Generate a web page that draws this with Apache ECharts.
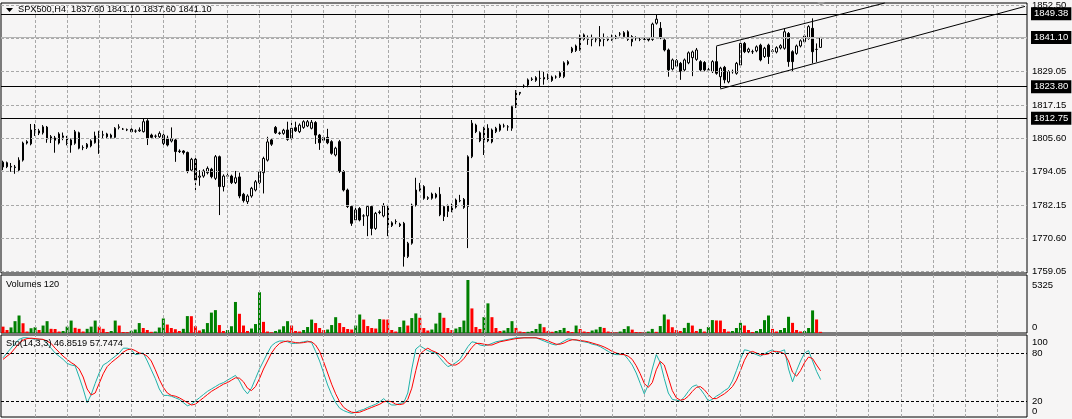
<!DOCTYPE html>
<html><head><meta charset="utf-8">
<script src="https://cdn.jsdelivr.net/npm/echarts@6/dist/echarts.min.js"></script>
<style>html,body{margin:0;padding:0;background:#f6f5f5;}#c{width:1072px;height:419px;}</style>
</head><body><div id="c"></div>
<script>
// ---- DATA ----
const opens=[1795.6,1797.1,1795.8,1795.6,1794.5,1798.0,1804.0,1803.7,1808.8,1807.5,
1807.6,1809.6,1806.2,1805.8,1804.0,1806.5,1806.0,1805.1,1803.9,1807.6,
1802.4,1802.5,1803.0,1804.1,1806.7,1806.8,1807.2,1806.8,1806.0,1809.5,
1808.9,1808.6,1808.8,1808.2,1808.3,1808.0,1811.8,1806.8,1806.4,1806.2,
1806.8,1805.7,1804.7,1805.1,1801.0,1801.2,1800.7,1794.5,1798.3,1792.0,
1792.4,1793.6,1794.8,1791.6,1799.2,1788.7,1792.4,1792.4,1790.1,1792.1,
1786.0,1783.4,1785.4,1787.5,1790.1,1793.6,1798.0,1805.1,1809.5,1807.5,
1807.4,1808.6,1805.7,1809.4,1808.0,1809.5,1810.0,1809.2,1811.2,1806.8,
1805.0,1806.0,1804.5,1799.8,1804.5,1794.0,1787.5,1781.7,1777.0,1781.0,
1778.4,1778.4,1781.7,1774.0,1779.6,1778.4,1781.9,1775.0,1776.4,1775.5,
1775.8,1764.1,1768.8,1782.2,1787.5,1788.7,1784.8,1784.6,1786.0,1786.0,
1778.2,1781.9,1780.2,1781.5,1783.7,1784.2,1781.7,1799.2,1810.3,1807.6,
1804.8,1809.2,1804.4,1808.0,1808.5,1810.0,1809.7,1809.2,1816.8,1821.8,
1824.0,1824.4,1826.3,1826.0,1826.7,1827.0,1826.7,1827.2,1827.2,1827.4,
1827.3,1831.8,1836.1,1836.5,1836.9,1842.0,1840.4,1840.4,1840.3,1840.4,
1840.4,1840.9,1840.4,1841.3,1842.3,1841.4,1843.1,1841.4,1840.8,1840.4,
1840.4,1840.7,1840.4,1846.1,1844.3,1840.2,1836.7,1830.0,1831.0,1832.0,
1829.7,1832.2,1834.0,1833.4,1832.6,1832.3,1829.7,1829.1,1832.6,1827.3,
1830.6,1825.5,1829.1,1828.5,1831.4,1839.0,1836.1,1836.1,1836.4,1838.4,
1834.4,1838.4,1836.2,1836.0,1837.4,1837.3,1842.5,1836.1,1835.5,1838.1,
1839.6,1840.8,1844.3,1836.9,1837.6];
const closes=[1797.3,1795.7,1795.6,1795.4,1798.0,1804.0,1804.5,1808.6,1807.6,1808.3,
1809.7,1805.4,1805.4,1805.0,1807.2,1806.0,1803.9,1803.3,1808.0,1802.2,
1802.4,1803.6,1804.8,1806.5,1806.8,1806.9,1806.2,1806.0,1809.2,1809.7,
1808.9,1808.7,1808.0,1808.2,1808.6,1811.5,1805.7,1806.0,1806.4,1807.4,
1803.9,1803.3,1805.5,1801.0,1801.2,1800.7,1794.0,1798.3,1791.0,1792.4,
1794.2,1795.1,1792.2,1799.2,1788.7,1792.4,1792.5,1790.1,1791.8,1785.4,
1783.8,1785.4,1788.1,1790.4,1794.0,1798.6,1804.4,1803.6,1807.6,1807.4,
1808.5,1805.3,1809.2,1808.3,1810.3,1811.5,1811.5,1811.3,1806.8,1804.1,
1805.9,1804.1,1800.4,1802.2,1794.0,1787.5,1781.7,1775.8,1780.5,1777.0,
1778.4,1781.7,1774.0,1779.3,1779.8,1781.9,1774.6,1776.0,1776.4,1775.0,
1764.1,1768.8,1782.2,1787.5,1788.0,1784.6,1784.6,1786.1,1785.0,1778.8,
1781.7,1780.0,1782.2,1784.0,1783.8,1781.4,1799.2,1811.0,1808.0,1804.8,
1809.2,1804.8,1808.6,1809.2,1810.3,1810.0,1809.7,1816.8,1822.0,1821.5,
1824.0,1826.2,1826.5,1827.0,1826.7,1826.5,1827.9,1826.0,1827.2,1828.7,
1832.2,1832.6,1837.3,1838.1,1841.6,1840.5,1840.4,1840.5,1840.3,1839.7,
1840.4,1840.3,1841.6,1841.3,1842.3,1842.8,1840.4,1839.6,1840.8,1840.4,
1840.4,1840.2,1845.8,1847.5,1841.0,1836.7,1829.7,1833.2,1833.0,1829.1,
1833.2,1835.7,1836.0,1836.7,1829.7,1829.7,1829.7,1832.6,1828.5,1830.3,
1826.2,1829.1,1829.1,1832.0,1839.0,1836.1,1837.0,1836.1,1837.8,1833.2,
1837.3,1834.4,1836.4,1837.5,1838.2,1843.1,1832.6,1832.6,1838.1,1839.9,
1841.6,1844.9,1836.1,1836.9,1841.1];
const lows=[1794.5,1795.2,1793.9,1793.2,1793.8,1797.5,1803.5,1803.2,1806.5,1806.8,
1807.0,1804.1,1804.0,1800.6,1803.5,1805.0,1803.2,1800.6,1803.4,1801.8,
1801.5,1801.9,1802.5,1803.8,1800.2,1805.5,1805.8,1805.6,1805.7,1808.8,
1808.6,1808.2,1807.7,1807.6,1807.9,1807.7,1803.3,1805.4,1805.7,1805.8,
1802.3,1802.8,1804.2,1797.4,1800.5,1800.0,1793.4,1793.9,1787.0,1789.0,
1791.8,1793.0,1791.6,1791.0,1778.7,1787.0,1791.6,1789.6,1789.6,1784.6,
1783.1,1782.6,1784.8,1787.0,1789.5,1786.3,1797.5,1803.0,1807.2,1806.9,
1806.9,1804.8,1805.2,1807.9,1807.5,1809.0,1809.6,1808.8,1803.7,1801.6,
1804.5,1803.6,1799.9,1799.3,1793.5,1787.0,1781.2,1774.9,1776.5,1776.5,
1774.9,1771.3,1771.6,1773.5,1779.0,1777.9,1771.3,1774.5,1775.5,1774.5,
1760.6,1763.6,1768.3,1781.7,1787.0,1784.1,1784.0,1784.1,1784.5,1778.3,
1776.6,1778.0,1779.7,1781.0,1783.2,1780.9,1767.1,1798.7,1807.5,1804.3,
1799.8,1804.3,1803.9,1807.5,1808.0,1809.4,1808.3,1808.3,1816.3,1820.8,
1823.4,1823.6,1825.8,1825.5,1824.0,1824.5,1826.2,1825.5,1826.6,1826.9,
1826.8,1831.3,1835.6,1836.0,1836.4,1840.0,1838.5,1838.0,1839.4,1838.0,
1838.0,1839.8,1839.9,1840.5,1841.5,1840.9,1839.9,1838.0,1840.0,1839.8,
1839.8,1839.7,1839.9,1845.6,1840.5,1836.2,1827.3,1829.5,1830.5,1826.2,
1829.2,1831.7,1827.5,1832.9,1829.2,1829.2,1829.0,1828.6,1828.0,1823.2,
1825.0,1825.0,1828.4,1828.0,1830.9,1835.6,1835.6,1835.3,1835.9,1832.7,
1833.9,1831.8,1835.5,1835.5,1836.9,1836.8,1830.8,1829.3,1835.0,1837.6,
1839.1,1840.3,1832.0,1832.5,1837.6];
const highs=[1797.8,1797.5,1797.0,1796.3,1799.0,1804.5,1805.0,1810.7,1810.7,1809.0,
1810.3,1810.0,1806.8,1806.5,1807.8,1807.7,1806.5,1805.6,1808.6,1808.0,
1803.2,1804.0,1805.3,1808.0,1808.3,1808.3,1807.6,1807.3,1809.6,1810.6,
1809.3,1809.1,1809.2,1808.8,1809.5,1812.7,1812.4,1807.3,1807.0,1808.1,
1807.3,1806.6,1809.5,1805.5,1801.8,1801.5,1801.0,1798.8,1798.8,1794.5,
1794.8,1795.8,1795.3,1799.8,1799.6,1793.0,1793.3,1792.9,1794.2,1793.6,
1786.5,1786.0,1788.6,1791.0,1794.6,1799.2,1806.2,1805.6,1810.0,1808.0,
1809.0,1811.5,1811.8,1811.5,1810.9,1812.0,1812.1,1812.1,1811.7,1807.2,
1806.4,1809.0,1805.0,1802.7,1805.1,1794.5,1788.0,1782.2,1782.3,1781.5,
1779.0,1782.2,1782.2,1779.8,1780.4,1782.9,1782.3,1776.5,1777.2,1776.0,
1776.3,1769.3,1782.7,1791.8,1790.0,1789.2,1785.3,1786.6,1786.5,1788.5,
1782.2,1782.4,1782.7,1784.5,1785.8,1784.7,1799.7,1812.1,1810.8,1808.1,
1809.7,1810.6,1809.1,1809.7,1810.8,1810.8,1810.3,1817.3,1822.6,1821.9,
1824.6,1826.7,1827.1,1827.5,1829.4,1829.0,1828.4,1827.7,1827.8,1829.2,
1832.7,1833.1,1837.8,1838.6,1842.1,1842.5,1841.8,1842.1,1841.0,1845.1,
1842.5,1841.4,1842.1,1842.0,1843.0,1843.3,1843.6,1841.9,1841.5,1841.0,
1840.9,1841.2,1846.3,1849.0,1846.5,1840.7,1837.2,1833.7,1833.5,1832.5,
1833.7,1836.2,1836.5,1837.4,1833.1,1832.8,1830.4,1833.1,1838.0,1830.8,
1831.1,1829.6,1829.8,1832.5,1840.2,1839.5,1837.5,1836.8,1838.3,1838.9,
1837.8,1838.9,1837.0,1838.0,1838.7,1844.3,1843.0,1836.6,1838.6,1840.4,
1842.1,1845.4,1847.8,1839.0,1841.1];
const volumes=[640,300,560,1190,1760,980,150,480,580,300,
750,1190,420,400,150,200,640,1250,520,420,
150,420,640,1250,640,420,100,200,1250,750,
100,80,220,350,1000,500,300,120,150,550,
1460,850,500,380,200,420,1700,1690,680,250,
380,1000,2050,2300,800,200,300,680,3120,1930,
750,200,450,900,4100,1120,150,60,200,350,
680,1190,750,200,150,300,600,1350,1000,500,
300,350,800,1590,1000,600,400,350,750,1860,
1350,700,500,450,1400,1360,1350,300,150,600,
1250,750,1500,1970,1530,500,250,350,950,2030,
1530,500,300,450,600,1250,5325,2470,600,400,
1600,2980,1590,500,200,250,500,1190,510,150,
100,120,200,400,920,580,200,120,200,300,
510,200,100,750,400,150,100,250,350,610,
510,150,100,50,150,400,680,340,100,80,
60,150,410,120,700,1860,1360,580,300,200,
510,1020,750,200,410,150,600,1300,1260,1250,
400,150,200,500,1020,750,300,100,200,400,
1290,1760,410,150,300,500,1630,1020,300,150,
200,500,2270,1360,120];
const stochMain=[74,80,86,92,97,99,99,98,97,97,
97,92,86,80,76,72,67,65,64,50,
35,18,28,42,55,65,68,72,76,80,
86,86,84,78,79,80,70,59,48,35,
27,27,26,24,22,18,14,16,20,24,
28,32,35,38,41,43,46,49,52,45,
35,29,36,48,60,70,80,89,93,95,
95,94,92,92,93,94,95,93,82,70,
55,40,28,18,11,8,6,4.5,6,8,
9.5,12,14,16,19,23,18,15,15,17,
18,30,60,85,89,86,83,81,80,74,
68,63,65,68,72,80,88,94,93,90,
89,90,92,94,95,96,97,98,99,99,
99,99,99,99,97,95,93,91,90,92,
95,97.6,97,96,95,94,93,91,90,88,
85,82,79,78,78,78,72,65,55,42,
29,40,60,78,68,48,30,22,21,20,
25,32,38,40,35,28,20,22,26,29,
33,36,45,58,72,84,83,80,78,76,
79,82,84,80,82,84,60,44,58,70,
80,83,70,57,46.8519];
const stochSignal=[72,76,80,86,92,96,98,98.5,98,97.5,
97,95,92,86,81,76,72,68,65,60,
50,35,27.5,30,42,54,63,68,72,76,
81,84,85,83,80,79,76,70,59,47,
37,30,27,26,24,21,18,15,16,20,
24,28,32,35,38,41,43,46,49,48.5,
44,36,33,38,48,60,70,80,87,92,
94,95,94,93,92.5,93,94,94,90,82,
69,55,41,29,19,12,8.5,6,5.5,6,
8,10,12,14,16,19,20,19,16,15.5,
16.5,22,36,58,78,83,86,83,81,78,
74,68,65,65,68,73,80,87,92,92,
91,90,90,92,94,95,96,97,98,98.5,
99,99,99,99,98,97,95,93,91,91,
92.5,95,96.5,96.5,95.5,95,94,92.5,91,89.5,
87.5,85,82,80,78.5,78,76,72,64,54,
42,37,43,59,69.5,65,49,33,24,21,
22,26,32,37,38,34,28,23,23,26,
29,33,38,46,58,71,80,82,80,78,
78,79,82,82,81,79,70,56,51,58,
68,75,73,65,57.7474];
const priceTicks=['1852.50','1829.05','1817.15','1805.60','1794.05','1782.15','1770.60','1759.05'];
const priceGridHidden=[1840.95];
const levelLines=['1849.38','1823.80','1812.75'];
const bidPrice='1841.10';
const stochLevels=['80','20'];
const volMaxLabel='5325';
const headerText='SPX500,H4  1837.60 1841.10 1837.60 1841.10';
const volTitle='Volumes 120';
const stoTitle='Sto(14,3,3) 46.8519 57.7474';
// channel trend lines: [barIndex, price] pairs
const channelUpper=[[178,1838.1],[220,1853.2]];
const channelLower=[[179,1823.0],[255,1852.0]];

// ---- CHART ----
const SLOTS=256;
const cats=Array.from({length:SLOTS},(_,i)=>String(i));
const candles=opens.map((o,i)=>[o,closes[i],lows[i],highs[i]]);
const vGrid=[];for(let k=8;k<SLOTS;k+=8)vGrid.push(String(k));
const FONT='Liberation Sans';
const gridDash={color:'#a8a8a8',type:[3,2],width:1};
const chart=echarts.init(document.getElementById('c'),null,{renderer:'canvas'});
const xA=(gi)=>({type:'category',gridIndex:gi,data:cats,boundaryGap:true,axisLine:{show:false},axisTick:{show:false},axisLabel:{show:false},splitLine:{show:false}});
const yA=(gi,min,max)=>({type:'value',gridIndex:gi,min:min,max:max,axisLine:{show:false},axisTick:{show:false},axisLabel:{show:false},splitLine:{show:false}});
const lblBase={fontFamily:FONT,fontSize:9.5,color:'#000',position:'end',distance:5};
const boxLbl=(t)=>({show:true,formatter:t,position:'end',distance:4,fontFamily:FONT,fontSize:9.5,color:'#fff',backgroundColor:'#000',padding:[2,3,1,3]});
const option={
  backgroundColor:'#f6f5f5',
  animation:false,
  textStyle:{fontFamily:FONT},
  grid:[
    {left:1,top:3,width:1026,height:270,show:true,borderColor:'#000',borderWidth:1,backgroundColor:'transparent'},
    {left:1,top:275,width:1026,height:58,show:true,borderColor:'#000',borderWidth:1,backgroundColor:'transparent'},
    {left:1,top:335,width:1026,height:82,show:true,borderColor:'#000',borderWidth:1,backgroundColor:'transparent'}
  ],
  xAxis:[xA(0),xA(1),xA(2)],
  yAxis:[yA(0,1758.35,1853.2),yA(1,0,5830),yA(2,0,102.5)],
  series:[
    {type:'line',xAxisIndex:0,yAxisIndex:0,data:[],z:1,silent:true,
      markLine:{silent:true,symbol:['none','none'],animation:false,lineStyle:gridDash,
        data:[
          ...priceTicks.map(t=>({yAxis:parseFloat(t),label:Object.assign({show:true,formatter:t},lblBase)})),
          ...priceGridHidden.map(v=>({yAxis:v,label:{show:false}})),
          ...vGrid.map(c=>({xAxis:c,label:{show:false}}))
        ]}},
    {type:'line',xAxisIndex:1,yAxisIndex:1,data:[],z:1,silent:true,
      markLine:{silent:true,symbol:['none','none'],animation:false,lineStyle:gridDash,label:{show:false},
        data:vGrid.map(c=>({xAxis:c}))}},
    {type:'line',xAxisIndex:2,yAxisIndex:2,data:[],z:1,silent:true,
      markLine:{silent:true,symbol:['none','none'],animation:false,lineStyle:gridDash,label:{show:false},
        data:[
          ...vGrid.map(c=>({xAxis:c})),
          ...stochLevels.map(t=>({yAxis:parseFloat(t),lineStyle:{color:'#000',type:[3,2],width:1},label:Object.assign({show:true,formatter:t},lblBase)}))
        ]}},
    {type:'candlestick',xAxisIndex:0,yAxisIndex:0,data:candles,barWidth:2,z:3,silent:true,
      itemStyle:{color:'#ffffff',color0:'#000000',borderColor:'#000000',borderColor0:'#000000',borderWidth:1}},
    {type:'line',xAxisIndex:0,yAxisIndex:0,data:[],z:4,silent:true,
      markLine:{silent:true,symbol:['none','none'],animation:false,
        data:[
          {yAxis:parseFloat(bidPrice),lineStyle:{color:'#b4b4b4',type:'solid',width:1},label:boxLbl(bidPrice)},
          ...levelLines.map(t=>({yAxis:parseFloat(t),lineStyle:{color:'#000',type:'solid',width:1},label:boxLbl(t)})),
          [{coord:[String(channelUpper[0][0]),channelUpper[0][1]],lineStyle:{color:'#000',type:'solid',width:1},label:{show:false}},{coord:[String(channelUpper[1][0]),channelUpper[1][1]]}],
          [{coord:[String(channelLower[0][0]),channelLower[0][1]],lineStyle:{color:'#000',type:'solid',width:1},label:{show:false}},{coord:[String(channelLower[1][0]),channelLower[1][1]]}]
        ]}},
    {type:'bar',xAxisIndex:1,yAxisIndex:1,data:volumes,barWidth:3,z:3,silent:true,
      itemStyle:{color:(p)=>(p.dataIndex>0&&volumes[p.dataIndex]>volumes[p.dataIndex-1])?'#008000':'#ff0000'}},
    {type:'line',xAxisIndex:2,yAxisIndex:2,data:stochMain,showSymbol:false,symbol:'none',z:3,silent:true,
      lineStyle:{color:'#20b2aa',width:1}},
    {type:'line',xAxisIndex:2,yAxisIndex:2,data:stochSignal,showSymbol:false,symbol:'none',z:4,silent:true,
      lineStyle:{color:'#ff0000',width:1}}
  ],
  graphic:[
    {type:'polygon',shape:{points:[[6,8],[13,8],[9.5,12]]},style:{fill:'#000'},z:100},
    {type:'text',left:18,top:5,style:{text:headerText,font:'9.2px "Liberation Sans"',fill:'#000'},z:100},
    {type:'text',left:6,top:280,style:{text:volTitle,font:'9.2px "Liberation Sans"',fill:'#000'},z:100},
    {type:'text',left:6,top:339,style:{text:stoTitle,font:'9.2px "Liberation Sans"',fill:'#000'},z:100},
    {type:'text',left:1032,top:280,style:{text:volMaxLabel,font:'9.5px "Liberation Sans"',fill:'#000'},z:100},
    {type:'text',left:1032,top:322,style:{text:'0',font:'9.5px "Liberation Sans"',fill:'#000'},z:100},
    {type:'text',left:1032,top:337,style:{text:'100',font:'9.5px "Liberation Sans"',fill:'#000'},z:100},
    {type:'text',left:1032,top:406,style:{text:'0',font:'9.5px "Liberation Sans"',fill:'#000'},z:100},
    {type:'polygon',shape:{points:[[817,2],[825,2],[821,6]]},style:{fill:'#9a9a9a'},z:100}
  ]
};
chart.setOption(option);
</script></body></html>
